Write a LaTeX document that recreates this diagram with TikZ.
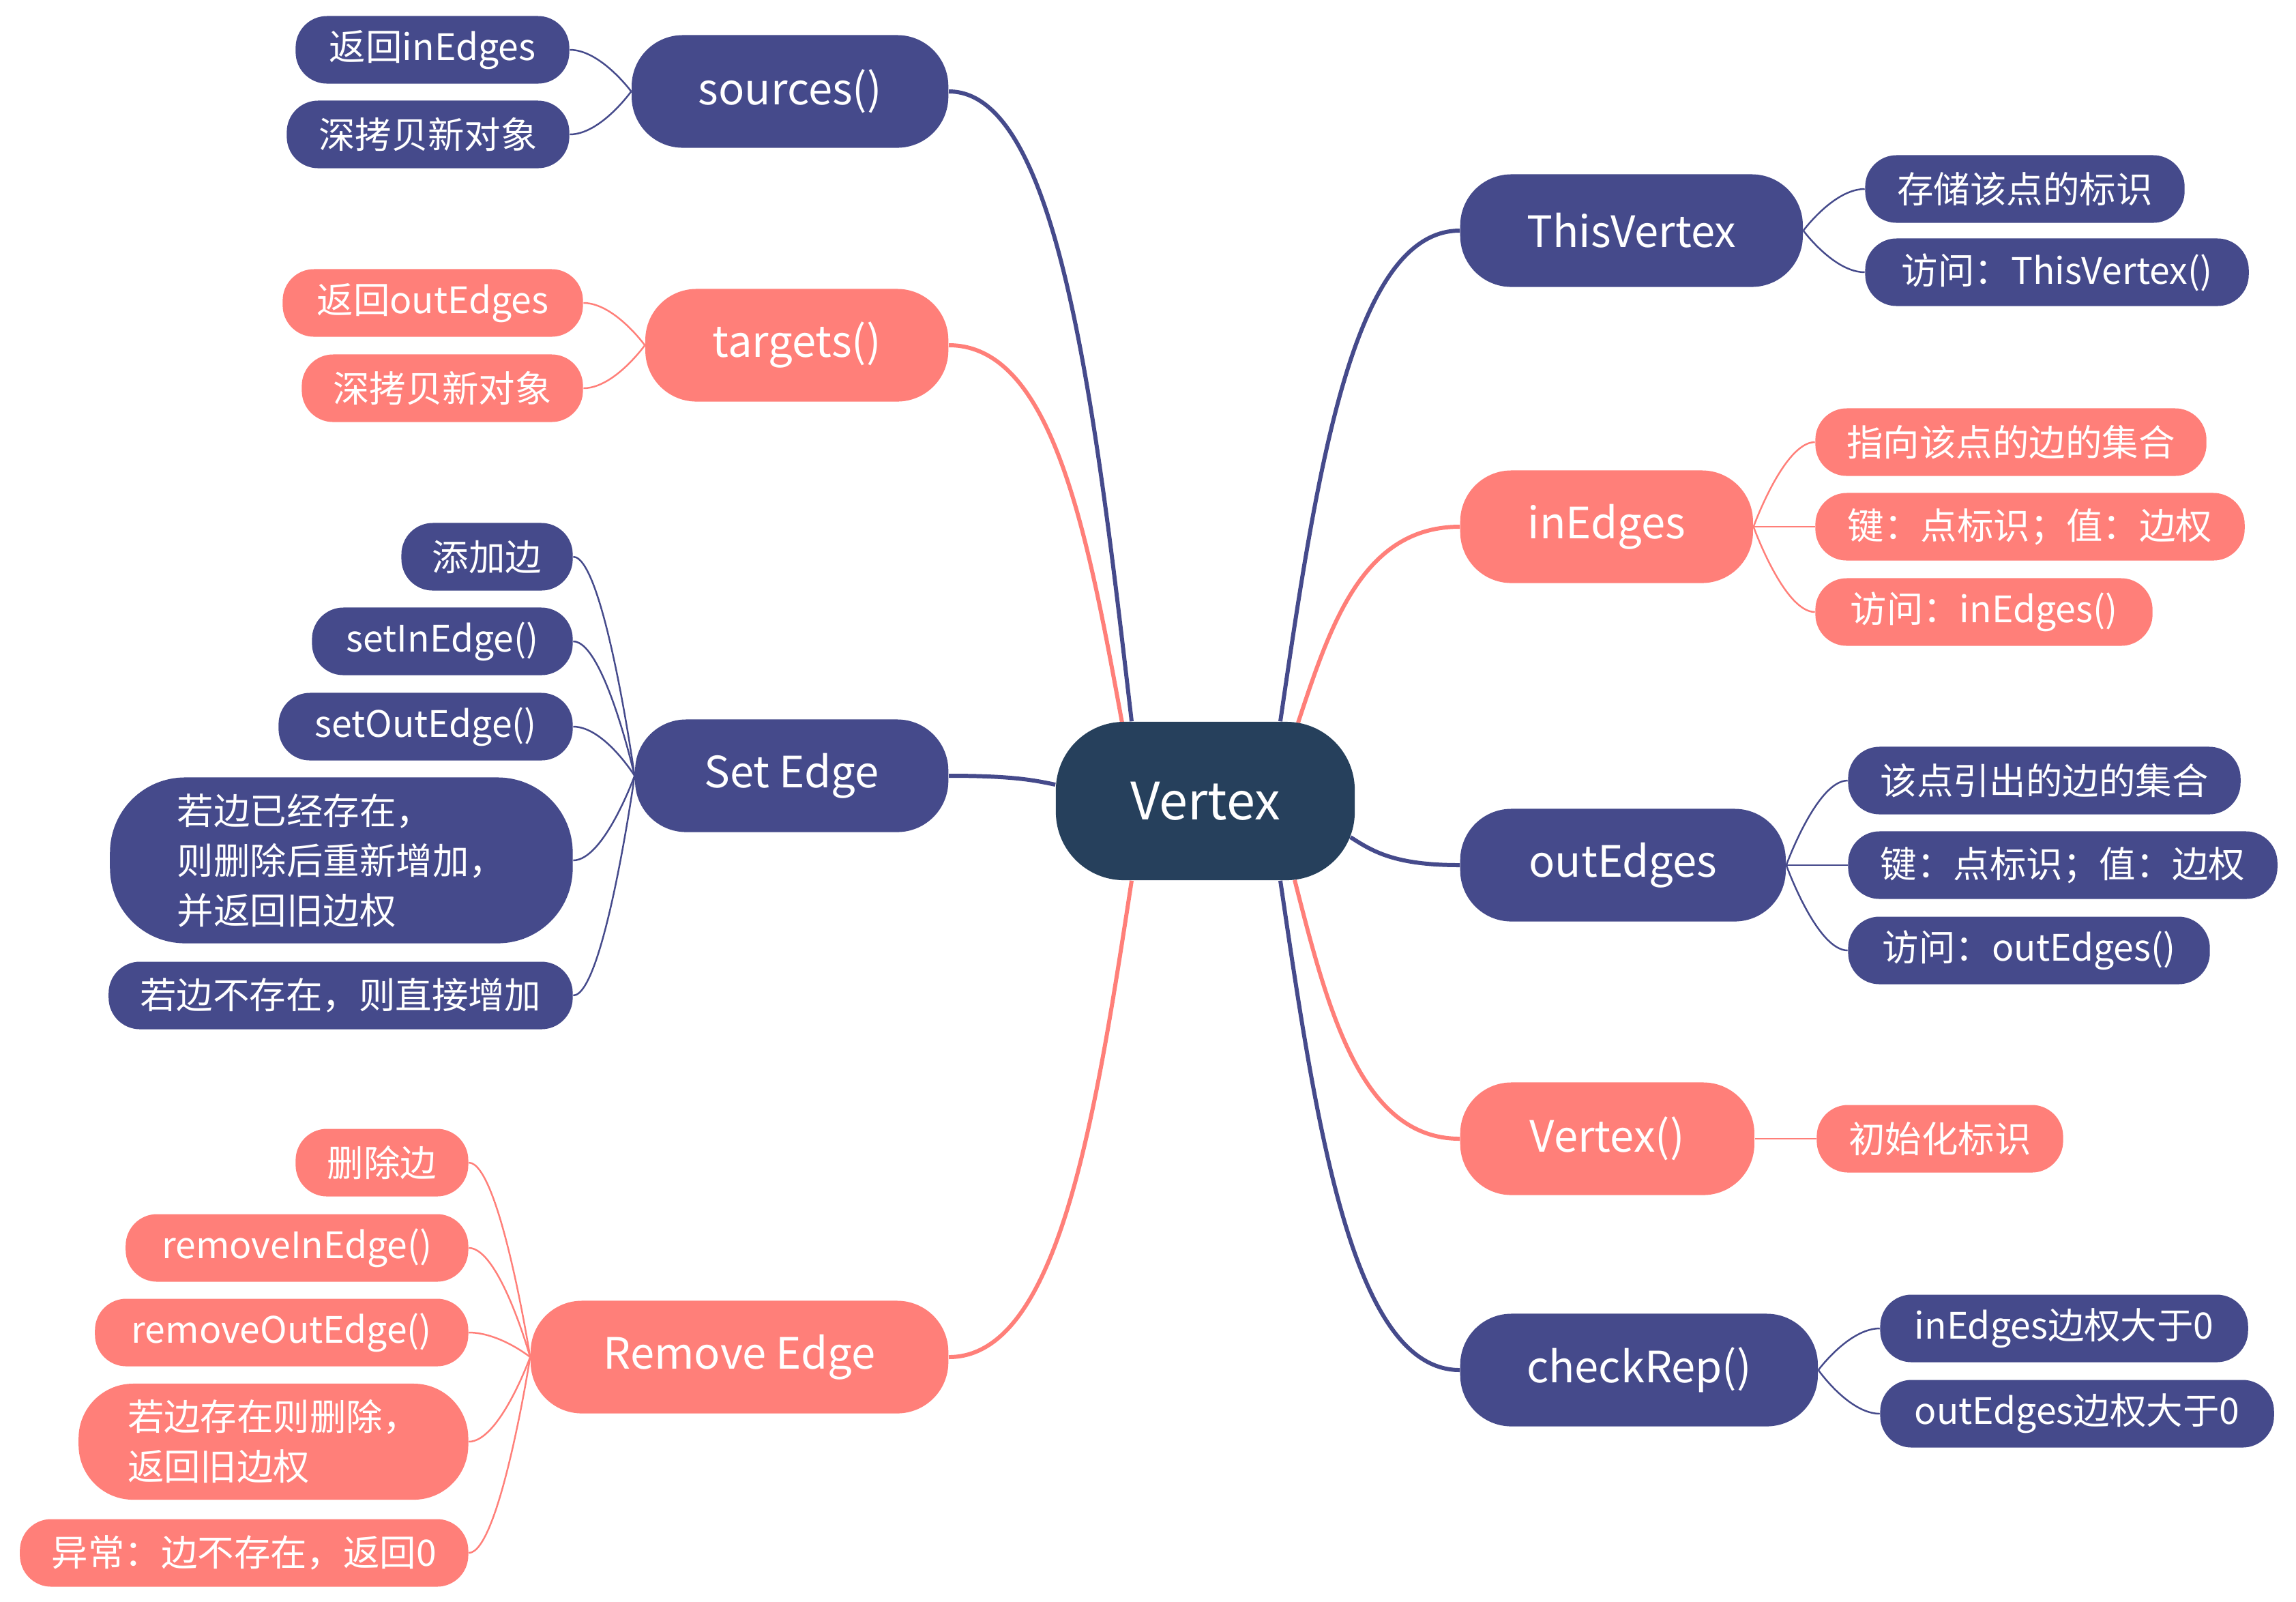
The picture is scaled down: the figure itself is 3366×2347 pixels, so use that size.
\documentclass[tikz,border=0pt]{standalone}
\usepackage{fontspec}
\newfontfamily\cjk{Noto Sans CJK SC}
\usetikzlibrary{calc,backgrounds}
\definecolor{navy}{RGB}{69,74,139}
\definecolor{salmon}{RGB}{255,127,121}
\definecolor{rootblue}{RGB}{38,64,92}

\begin{document}
\begin{tikzpicture}[x=0.01cm, y=-0.01cm]
    \tikzstyle{hub}=[fill=rootblue, text=white, rounded corners=1cm, minimum width=4.38cm, minimum height=2.32cm, inner sep=0pt, font=\cjk\fontsize{21.5}{26}\selectfont]
    \tikzstyle{topic}=[text=white, rounded corners=0.75cm, minimum height=1.65cm, inner xsep=0.3cm, inner ysep=0pt, font=\cjk\fontsize{18}{22}\selectfont]
    \tikzstyle{leaf}=[text=white, rounded corners=0.46cm, minimum height=0.99cm, inner xsep=0.2cm, inner ysep=0pt, align=left, font=\cjk\fontsize{15.2}{20.8}\selectfont]
    \tikzstyle{limb}=[line width=1.7pt]
    \tikzstyle{twig}=[line width=0.7pt]
    \useasboundingbox (0,0) rectangle (3366,2347);

    \node[hub] (root) at (1767,1174) {Vertex};
    \coordinate (r-src) at ($(root.north)+(-108,0)$);
    \coordinate (r-tgt) at ($(root.north)+(-122,2)$);
    \coordinate (r-set) at ($(root.west)+(0,-24)$);
    \coordinate (r-rem) at ($(root.south)+(-108,0)$);
    \coordinate (r-this) at ($(root.north)+(110,0)$);
    \coordinate (r-in) at ($(root.north)+(136,2)$);
    \coordinate (r-out) at ($(root.east)+(-7,53)$);
    \coordinate (r-ctor) at ($(root.south)+(131,-1)$);
    \coordinate (r-chk) at ($(root.south)+(110,0)$);

    % left topics
    \node[topic, fill=navy, minimum width=4.64cm, anchor=east] (src) at (1391,134) {sources()};
    \node[topic, fill=salmon, minimum width=4.44cm, anchor=east] (tgt) at (1391,506) {targets()};
    \node[topic, fill=navy, minimum width=4.59cm, anchor=east] (set) at (1391,1137) {Set Edge};
    \node[topic, fill=salmon, minimum width=6.12cm, anchor=east] (rem) at (1391,1989) {Remove Edge};
    % right topics
    \node[topic, fill=navy, minimum width=5.02cm, anchor=west] (this) at (2140,338) {ThisVertex};
    \node[topic, fill=salmon, minimum width=4.29cm, anchor=west] (in) at (2140,772) {inEdges};
    \node[topic, fill=navy, minimum width=4.77cm, anchor=west] (out) at (2140,1268) {outEdges};
    \node[topic, fill=salmon, minimum width=4.31cm, anchor=west] (ctor) at (2140,1669) {Vertex()};
    \node[topic, fill=navy, minimum width=5.24cm, anchor=west] (chk) at (2140,2008) {checkRep()};

    \begin{pgfonlayer}{background}
      \foreach \pt/\b/\col in {r-src/src/navy, r-tgt/tgt/salmon, r-set/set/navy, r-rem/rem/salmon} {
        \coordinate (c2) at ($(\b.east)!0.6!(\b.east -| \pt)$);
        \draw[limb, \col] (\pt) .. controls ($(\pt)!0.5!(c2)$) and (c2) .. (\b.east);
      }
      \foreach \pt/\b/\col in {r-this/this/navy, r-in/in/salmon, r-out/out/navy, r-ctor/ctor/salmon, r-chk/chk/navy} {
        \coordinate (c2) at ($(\b.west)!0.6!(\b.west -| \pt)$);
        \draw[limb, \col] (\pt) .. controls ($(\pt)!0.5!(c2)$) and (c2) .. (\b.west);
      }
    \end{pgfonlayer}

    % left leaves
    \foreach \p/\col/\i/\dy/\w/\txt in {
        src/navy/1/-61/4.01cm/返回inEdges, src/navy/2/63/4.14cm/深拷贝新对象,
        tgt/salmon/1/-62/4.40cm/返回outEdges, tgt/salmon/2/63/4.12cm/深拷贝新对象,
        set/navy/1/-321/2.51cm/添加边, set/navy/2/-197/3.82cm/setInEdge(),
        set/navy/3/-72/4.31cm/setOutEdge(), set/navy/5/322/6.80cm/{若边不存在，则直接增加},
        rem/salmon/1/-285/2.53cm/删除边, rem/salmon/2/-160/5.02cm/removeInEdge(),
        rem/salmon/3/-36/5.47cm/removeOutEdge(), rem/salmon/5/287/6.57cm/{异常：边不存在，返回0}} {
      \node[leaf, fill=\col, minimum width=\w, anchor=east] (\p\i) at ($(\p.west)+(-90,\dy)$) {\txt};
      \begin{pgfonlayer}{background}
        \draw[twig, \col] (\p.west) .. controls (\p.west) and ($(\p\i.east)!0.5!(\p\i.east -| \p.west)$) .. (\p\i.east);
      \end{pgfonlayer}
    }
    \node[leaf, fill=navy, minimum width=6.78cm, minimum height=2.43cm, rounded corners=1.1cm, anchor=east] (set4) at ($(set.west)+(-90,124)$) {若边已经存在，\\则删除后重新增加，\\并返回旧边权};
    \node[leaf, fill=salmon, minimum width=5.71cm, minimum height=1.70cm, rounded corners=0.8cm, anchor=east] (rem4) at ($(rem.west)+(-90,124)$) {若边存在则删除，\\返回旧边权};
    \begin{pgfonlayer}{background}
      \draw[twig, navy] (set.west) .. controls (set.west) and ($(set4.east)!0.5!(set4.east -| set.west)$) .. (set4.east);
      \draw[twig, salmon] (rem.west) .. controls (rem.west) and ($(rem4.east)!0.5!(rem4.east -| rem.west)$) .. (rem4.east);
    \end{pgfonlayer}

    % right leaves
    \foreach \p/\col/\i/\dy/\w/\txt in {
        this/navy/1/-61/4.68cm/存储该点的标识, this/navy/2/61/5.62cm/访问：ThisVertex(),
        in/salmon/1/-124/5.73cm/指向该点的边的集合, in/salmon/2/0/6.29cm/键：点标识；值：边权,
        in/salmon/3/125/4.94cm/访问：inEdges(),
        out/navy/1/-124/5.75cm/该点引出的边的集合, out/navy/2/0/6.29cm/键：点标识；值：边权,
        out/navy/3/125/5.30cm/访问：outEdges(),
        ctor/salmon/1/0/3.61cm/初始化标识,
        chk/navy/1/-61/5.39cm/inEdges边权大于0, chk/navy/2/64/5.77cm/outEdges边权大于0} {
      \node[leaf, fill=\col, minimum width=\w, anchor=west] (\p\i) at ($(\p.east)+(90,\dy)$) {\txt};
      \begin{pgfonlayer}{background}
        \draw[twig, \col] (\p.east) .. controls (\p.east) and ($(\p\i.west)!0.5!(\p\i.west -| \p.east)$) .. (\p\i.west);
      \end{pgfonlayer}
    }
\end{tikzpicture}
\end{document}
